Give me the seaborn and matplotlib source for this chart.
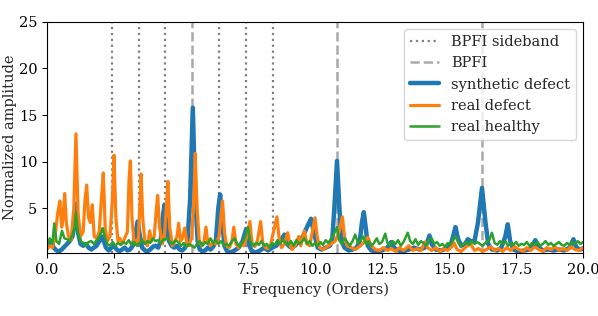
import pandas as pd
import matplotlib
matplotlib.use("Agg")
import matplotlib.pyplot as plt
import seaborn as sns

# reference frequencies (orders)
bpfi_orders = [5.415, 10.83, 16.246]
sideband_orders = [2.415, 3.415, 4.415, 6.415, 7.415, 8.415]

# spectrum vertices (frequency in orders, normalized amplitude)
synthetic_defect = [
    (0.0, 1.3), (0.08, 1.0), (0.15, 1.5), (0.25, 0.8), (0.35, 0.5), (0.45, 0.4), (0.55, 0.6),
    (0.65, 0.9), (0.75, 1.2), (0.85, 1.5), (0.95, 2.0), (1.03, 4.0), (1.08, 5.5), (1.15, 2.5),
    (1.25, 1.2), (1.35, 1.0), (1.45, 1.2), (1.55, 0.8), (1.65, 0.6), (1.75, 0.8), (1.85, 1.0),
    (1.95, 1.5), (2.05, 2.0), (2.12, 1.5), (2.2, 0.8), (2.3, 0.5), (2.4, 0.8), (2.5, 1.0),
    (2.6, 0.6), (2.7, 0.4), (2.8, 0.6), (2.9, 0.8), (3.0, 0.5), (3.1, 0.6), (3.2, 1.0),
    (3.28, 2.0), (3.38, 3.6), (3.47, 2.0), (3.55, 0.8), (3.65, 0.5), (3.75, 0.4), (3.85, 0.6),
    (3.95, 0.9), (4.05, 1.0), (4.15, 0.8), (4.24, 1.5), (4.32, 4.0), (4.38, 5.4), (4.46, 3.0),
    (4.55, 1.5), (4.65, 1.0), (4.75, 0.8), (4.85, 1.0), (4.95, 0.6), (5.05, 0.5), (5.15, 0.8),
    (5.24, 1.5), (5.34, 6.0), (5.44, 15.8), (5.53, 6.0), (5.62, 1.5), (5.7, 0.6), (5.8, 0.4),
    (5.9, 0.5), (6.0, 0.8), (6.1, 0.6), (6.2, 0.9), (6.3, 1.5), (6.39, 5.0), (6.46, 6.5),
    (6.54, 3.5), (6.62, 1.0), (6.72, 0.4), (6.85, 0.3), (7.0, 0.5), (7.15, 0.8), (7.3, 1.5),
    (7.43, 2.8), (7.52, 1.2), (7.65, 0.4), (7.8, 0.3), (7.95, 0.5), (8.1, 0.8), (8.25, 0.5),
    (8.4, 0.8), (8.55, 1.0), (8.7, 1.5), (8.86, 2.2), (8.95, 1.2), (9.1, 0.8), (9.25, 1.0),
    (9.4, 1.5), (9.55, 2.0), (9.7, 3.0), (9.85, 3.9), (9.95, 2.5), (10.1, 0.8), (10.25, 0.6),
    (10.4, 0.8), (10.55, 1.0), (10.64, 1.5), (10.72, 5.0), (10.82, 10.1), (10.91, 5.0),
    (10.99, 1.5), (11.1, 0.8), (11.25, 0.5), (11.4, 0.6), (11.55, 0.8), (11.67, 1.5),
    (11.75, 3.5), (11.82, 4.6), (11.89, 3.0), (11.97, 1.0), (12.1, 0.5), (12.3, 0.4),
    (12.5, 0.5), (12.7, 0.8), (12.84, 1.4), (12.95, 0.8), (13.1, 0.5), (13.3, 0.4), (13.5, 0.6),
    (13.7, 0.8), (13.9, 0.6), (14.1, 0.8), (14.2, 1.5), (14.27, 2.1), (14.35, 1.2), (14.5, 0.6),
    (14.7, 0.5), (14.9, 0.7), (15.05, 1.0), (15.15, 2.0), (15.24, 3.0), (15.33, 1.8),
    (15.45, 1.0), (15.6, 1.2), (15.7, 1.7), (15.8, 1.5), (15.95, 1.5), (16.08, 3.5),
    (16.23, 7.2), (16.36, 3.5), (16.46, 1.2), (16.6, 0.6), (16.8, 0.5), (16.95, 0.8),
    (17.1, 2.0), (17.19, 3.3), (17.28, 1.5), (17.4, 0.6), (17.6, 0.4), (17.8, 0.5), (18.0, 0.6),
    (18.1, 1.0), (18.22, 1.6), (18.32, 0.9), (18.5, 0.5), (18.7, 0.6), (18.9, 0.5), (19.1, 0.6),
    (19.3, 0.5), (19.5, 0.8), (19.64, 1.7), (19.75, 0.8), (19.9, 0.6), (20.0, 0.7),
]

real_defect = [
    (0.0, 0.6), (0.1, 1.0), (0.2, 0.8), (0.3, 2.0), (0.4, 4.5), (0.48, 5.8), (0.55, 3.0),
    (0.6, 4.0), (0.66, 6.6), (0.72, 3.5), (0.8, 2.0), (0.9, 1.6), (1.0, 5.0), (1.08, 13.0),
    (1.16, 4.5), (1.25, 2.0), (1.35, 2.5), (1.42, 6.0), (1.48, 7.5), (1.55, 4.0), (1.62, 3.5),
    (1.69, 5.4), (1.76, 2.0), (1.85, 1.8), (1.95, 2.5), (2.03, 6.0), (2.1, 8.8), (2.17, 3.0),
    (2.25, 1.5), (2.35, 2.0), (2.44, 6.0), (2.5, 10.7), (2.57, 4.0), (2.65, 1.5), (2.72, 1.8),
    (2.8, 1.2), (2.9, 1.8), (3.0, 2.5), (3.06, 8.0), (3.11, 10.1), (3.17, 4.0), (3.25, 1.3),
    (3.32, 1.5), (3.4, 1.2), (3.46, 5.0), (3.51, 8.7), (3.57, 4.0), (3.65, 1.5), (3.75, 1.0),
    (3.83, 2.6), (3.9, 1.5), (4.0, 2.0), (4.08, 5.0), (4.13, 6.4), (4.2, 3.0), (4.3, 1.2),
    (4.38, 2.0), (4.46, 5.5), (4.51, 7.9), (4.58, 3.0), (4.68, 1.0), (4.78, 1.5), (4.85, 2.0),
    (4.91, 3.4), (4.98, 1.5), (5.05, 1.8), (5.14, 2.9), (5.22, 1.2), (5.3, 1.0), (5.4, 2.0),
    (5.48, 6.0), (5.53, 10.9), (5.6, 5.0), (5.68, 1.5), (5.78, 1.0), (5.86, 1.5), (5.93, 3.0),
    (6.0, 1.4), (6.1, 1.0), (6.2, 1.5), (6.3, 1.2), (6.42, 2.0), (6.5, 4.5), (6.55, 5.8),
    (6.62, 2.5), (6.7, 1.0), (6.8, 0.8), (6.9, 1.5), (6.97, 3.0), (7.05, 1.2), (7.15, 0.8),
    (7.25, 1.2), (7.35, 1.0), (7.45, 2.0), (7.57, 3.6), (7.65, 1.3), (7.75, 0.9), (7.85, 1.5),
    (7.97, 3.6), (8.05, 1.3), (8.15, 0.8), (8.25, 0.7), (8.35, 1.2), (8.45, 2.5), (8.58, 4.1),
    (8.67, 1.5), (8.75, 0.8), (8.85, 1.2), (8.98, 2.4), (9.07, 1.0), (9.15, 0.6), (9.25, 1.0),
    (9.39, 2.0), (9.47, 1.0), (9.6, 2.6), (9.7, 1.2), (9.8, 1.0), (9.9, 2.5), (10.0, 4.0),
    (10.08, 2.0), (10.17, 0.8), (10.3, 0.6), (10.45, 0.9), (10.6, 1.2), (10.75, 1.5),
    (10.9, 2.5), (11.02, 4.1), (11.1, 2.0), (11.2, 1.0), (11.35, 0.8), (11.5, 0.6), (11.65, 0.9),
    (11.8, 1.3), (11.97, 1.9), (12.1, 1.0), (12.25, 0.6), (12.4, 0.5), (12.55, 0.8), (12.7, 0.5),
    (12.85, 0.7), (13.0, 0.4), (13.15, 0.8), (13.3, 0.5), (13.5, 1.0), (13.65, 0.5), (13.8, 0.7),
    (13.95, 0.5), (14.1, 1.4), (14.2, 0.8), (14.35, 0.5), (14.5, 0.8), (14.65, 0.4), (14.8, 0.7),
    (14.95, 0.5), (15.1, 0.9), (15.19, 1.3), (15.3, 0.6), (15.45, 0.4), (15.6, 0.8), (15.8, 1.2),
    (15.95, 0.5), (16.1, 0.7), (16.25, 0.4), (16.4, 0.6), (16.55, 0.9), (16.7, 0.5), (16.85, 0.7),
    (17.0, 0.4), (17.15, 0.8), (17.3, 0.5), (17.45, 0.9), (17.6, 0.6), (17.75, 0.4), (17.9, 0.8),
    (18.05, 0.5), (18.2, 0.9), (18.35, 0.6), (18.5, 0.4), (18.65, 0.8), (18.8, 0.6), (18.95, 0.9),
    (19.1, 0.5), (19.25, 0.7), (19.4, 0.5), (19.55, 0.9), (19.7, 0.6), (19.85, 0.5), (20.0, 0.8),
]

real_healthy = [
    (0.0, 1.0), (0.1, 1.8), (0.2, 1.2), (0.27, 3.4), (0.35, 1.5), (0.45, 1.2), (0.56, 2.6),
    (0.65, 1.8), (0.75, 1.7), (0.85, 1.5), (0.95, 2.2), (1.03, 3.0), (1.08, 4.5), (1.15, 2.5),
    (1.25, 1.5), (1.35, 1.3), (1.45, 1.0), (1.55, 1.4), (1.65, 1.5), (1.75, 1.2), (1.85, 1.6),
    (1.95, 2.0), (2.03, 2.5), (2.08, 2.9), (2.15, 2.0), (2.25, 1.2), (2.35, 1.0), (2.45, 1.4),
    (2.55, 1.0), (2.65, 1.3), (2.75, 1.1), (2.85, 1.4), (2.95, 1.2), (3.05, 1.6), (3.15, 1.1),
    (3.25, 1.4), (3.35, 1.0), (3.45, 1.3), (3.55, 1.6), (3.65, 1.2), (3.75, 1.5), (3.85, 1.3),
    (3.95, 1.8), (4.05, 1.5), (4.15, 1.6), (4.25, 1.3), (4.35, 1.7), (4.5, 1.8), (4.6, 1.4),
    (4.7, 1.2), (4.8, 1.6), (4.9, 1.4), (5.0, 1.0), (5.1, 1.3), (5.2, 0.9), (5.3, 1.2),
    (5.4, 1.0), (5.5, 0.8), (5.6, 1.2), (5.7, 1.5), (5.8, 1.0), (5.9, 1.4), (6.0, 1.2),
    (6.1, 1.8), (6.2, 1.3), (6.3, 1.6), (6.4, 1.2), (6.5, 1.5), (6.6, 1.0), (6.7, 1.2),
    (6.8, 1.0), (6.9, 1.5), (7.0, 1.8), (7.1, 1.2), (7.2, 0.9), (7.3, 1.4), (7.4, 2.0),
    (7.5, 3.0), (7.58, 1.5), (7.7, 1.0), (7.8, 1.3), (7.9, 1.1), (8.0, 1.5), (8.1, 1.0),
    (8.2, 1.2), (8.3, 0.8), (8.4, 1.3), (8.5, 1.1), (8.6, 1.6), (8.7, 1.2), (8.8, 1.7),
    (8.9, 1.3), (9.0, 1.1), (9.1, 1.5), (9.2, 1.0), (9.3, 1.6), (9.4, 1.2), (9.5, 1.4),
    (9.6, 1.8), (9.7, 1.2), (9.8, 1.5), (9.9, 1.0), (10.0, 1.3), (10.1, 1.0), (10.2, 1.4),
    (10.3, 1.1), (10.4, 1.6), (10.5, 1.3), (10.6, 1.8), (10.68, 2.1), (10.82, 3.0), (10.9, 1.6),
    (11.0, 1.2), (11.1, 1.8), (11.2, 1.4), (11.3, 1.0), (11.4, 1.5), (11.5, 2.2), (11.6, 1.3),
    (11.7, 1.6), (11.8, 2.0), (11.9, 1.2), (12.0, 1.5), (12.1, 1.0), (12.2, 1.3), (12.3, 1.8),
    (12.4, 1.2), (12.5, 1.4), (12.62, 2.3), (12.7, 1.3), (12.8, 1.0), (12.9, 1.5), (13.0, 1.2),
    (13.1, 1.6), (13.2, 1.0), (13.3, 1.4), (13.46, 2.4), (13.55, 1.5), (13.65, 1.2),
    (13.75, 1.7), (13.85, 1.1), (13.95, 1.5), (14.05, 1.3), (14.15, 1.0), (14.25, 1.6),
    (14.35, 1.8), (14.45, 1.2), (14.55, 1.4), (14.65, 1.0), (14.75, 1.2), (14.85, 0.9),
    (14.95, 1.3), (15.05, 1.1), (15.15, 1.6), (15.25, 2.0), (15.35, 1.3), (15.45, 1.0),
    (15.55, 1.2), (15.65, 1.4), (15.75, 1.1), (15.85, 1.5), (15.95, 1.2), (16.05, 1.4),
    (16.15, 1.2), (16.25, 1.0), (16.35, 1.3), (16.5, 1.6), (16.6, 2.4), (16.7, 1.3),
    (16.8, 1.1), (16.9, 1.5), (17.0, 1.2), (17.1, 1.5), (17.2, 1.0), (17.3, 1.3), (17.4, 1.1),
    (17.5, 1.4), (17.6, 1.0), (17.7, 1.2), (17.8, 1.1), (17.9, 1.4), (18.0, 1.0), (18.1, 1.3),
    (18.2, 1.1), (18.3, 1.4), (18.4, 1.0), (18.5, 1.2), (18.6, 1.5), (18.7, 1.1), (18.8, 1.3),
    (18.9, 1.0), (19.0, 1.2), (19.1, 1.4), (19.2, 1.1), (19.3, 1.0), (19.4, 1.3), (19.5, 1.1),
    (19.6, 1.4), (19.7, 1.2), (19.8, 1.5), (19.9, 1.2), (20.0, 1.4),
]

series_names = ["synthetic defect", "real defect", "real healthy"]
series_colors = ["#1f77b4", "#ff7f0e", "#2ca02c"]
series_widths = [3.2, 2.3, 1.8]

sns.set_style("ticks")
plt.rcParams["font.family"] = ["DejaVu Serif"]
plt.rcParams["font.size"] = 10.5
plt.rcParams["axes.labelsize"] = 10.5
plt.rcParams["xtick.labelsize"] = 10.5
plt.rcParams["ytick.labelsize"] = 10.5
plt.rcParams["axes.edgecolor"] = "black"
plt.rcParams["xtick.color"] = "black"
plt.rcParams["ytick.color"] = "black"

fig, ax = plt.subplots(figsize=(5.98, 3.16), dpi=100)
fig.subplots_adjust(left=0.0786, right=0.975, top=0.931, bottom=0.198)

# reference lines sit behind the spectra
for i, f in enumerate(sideband_orders):
    ax.axvline(f, color="gray", ls=":", lw=1.6, zorder=1,
               label="BPFI sideband" if i == 0 else None)
for i, f in enumerate(bpfi_orders):
    ax.axvline(f, color="darkgray", ls="--", lw=1.8, zorder=1,
               label="BPFI" if i == 0 else None)

for name, pts, col, lw in zip(series_names, [synthetic_defect, real_defect, real_healthy],
                              series_colors, series_widths):
    df = pd.DataFrame(pts, columns=["freq", "amp"])
    sns.lineplot(data=df, x="freq", y="amp", ax=ax, color=col, lw=lw, label=name)

ax.set_xlim(0, 20)
ax.set_ylim(0.18, 25)
ax.set_xticks([0, 2.5, 5, 7.5, 10, 12.5, 15, 17.5, 20])
ax.set_xlabel("Frequency (Orders)")
ax.set_ylabel("Normalized amplitude", labelpad=1.5)
ax.legend(loc="upper right", fontsize=10.5)

fig.savefig("out.png", dpi=100)
